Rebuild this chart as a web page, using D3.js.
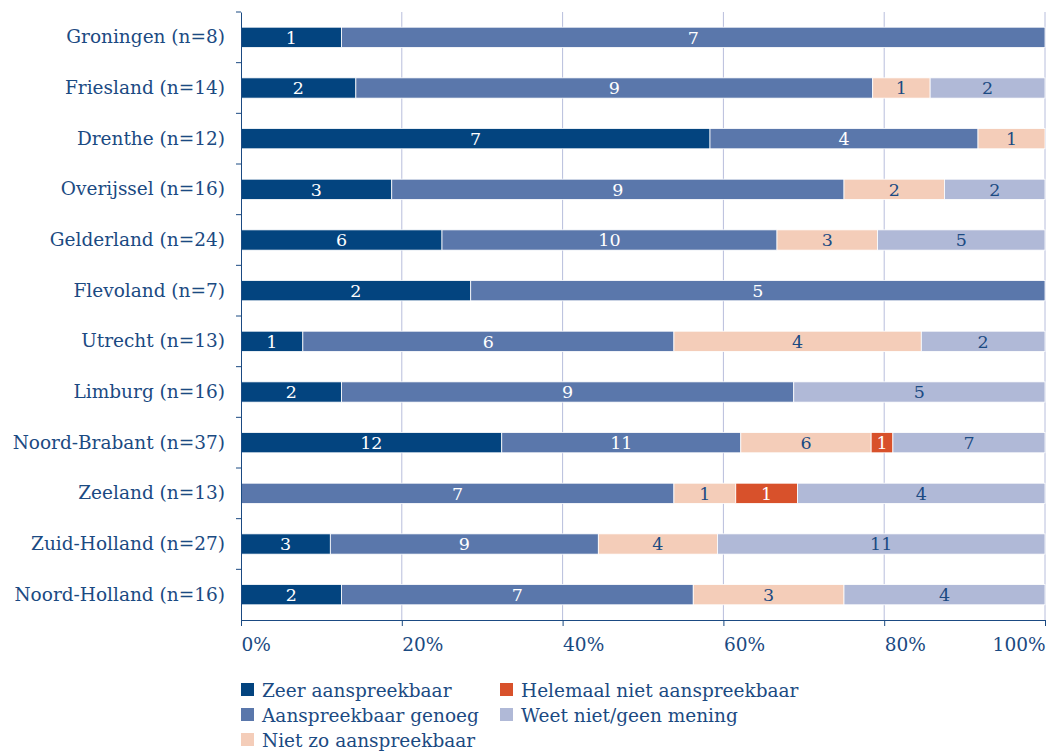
<!DOCTYPE html>
<html lang="nl">
<head>
<meta charset="UTF-8">
<title>Aanspreekbaarheid per provincie</title>
<style>
  body { margin: 0; background: #fff; }
  svg text { font-family: "DejaVu Serif", serif; fill: #1b4a82; }
</style>
</head>
<body>
<svg id="chart" width="1047" height="753"></svg>
<script src="https://d3js.org/d3.v7.min.js"></script>
<script>
var provinces = ["Groningen (n=8)", "Friesland (n=14)", "Drenthe (n=12)", "Overijssel (n=16)",
  "Gelderland (n=24)", "Flevoland (n=7)", "Utrecht (n=13)", "Limburg (n=16)",
  "Noord-Brabant (n=37)", "Zeeland (n=13)", "Zuid-Holland (n=27)", "Noord-Holland (n=16)"];

var categories = ["Zeer aanspreekbaar", "Aanspreekbaar genoeg", "Niet zo aanspreekbaar",
  "Helemaal niet aanspreekbaar", "Weet niet/geen mening"];

var zeer      = [1, 2, 7, 3, 6, 2, 1, 2, 12, 0, 3, 2];
var genoeg    = [7, 9, 4, 9, 10, 5, 6, 9, 11, 7, 9, 7];
var nietZo    = [0, 1, 1, 2, 3, 0, 4, 0, 6, 1, 4, 3];
var helemaal  = [0, 0, 0, 0, 0, 0, 0, 0, 1, 1, 0, 0];
var weetNiet  = [0, 2, 0, 2, 5, 0, 2, 5, 7, 4, 11, 4];

var xTicks = [0, 0.2, 0.4, 0.6, 0.8, 1];

var colors = ["#03447f", "#5a77ab", "#f4cdb9", "#d8512b", "#b0b9d7"];
var labelColors = ["#ffffff", "#ffffff", "#1b4a82", "#ffffff", "#1b4a82"];

var series = [zeer, genoeg, nietZo, helemaal, weetNiet];

var rows = provinces.map(function(p, i) {
  var total = d3.sum(series, function(s) { return s[i]; });
  var x0 = 0;
  var segs = series.map(function(s, k) {
    var seg = { cat: k, value: s[i], start: x0 / total, end: (x0 + s[i]) / total };
    x0 += s[i];
    return seg;
  }).filter(function(d) { return d.value > 0; });
  return { name: p, segs: segs };
});

var svg = d3.select("#chart");
var margin = { top: 12, right: 2, bottom: 133, left: 241 };
var width = 1047 - margin.left - margin.right;
var height = 753 - margin.top - margin.bottom;

var g = svg.append("g").attr("transform", "translate(" + margin.left + "," + margin.top + ")");

var x = d3.scaleLinear().domain([0, 1]).range([0, width]);
var y = d3.scaleBand().domain(provinces).range([0, height]).paddingInner(0.6).paddingOuter(0.3);

// gridlines
g.selectAll(".grid")
  .data(xTicks.slice(1))
  .enter().append("line")
  .attr("x1", function(d) { return x(d); })
  .attr("x2", function(d) { return x(d); })
  .attr("y1", 0)
  .attr("y2", height)
  .attr("stroke", "#b8bedc")
  .attr("stroke-width", 1);

var row = g.selectAll(".row")
  .data(rows)
  .enter().append("g")
  .attr("transform", function(d) { return "translate(0," + y(d.name) + ")"; });

row.selectAll("rect")
  .data(function(d) { return d.segs; })
  .enter().append("rect")
  .attr("x", function(d) { return x(d.start); })
  .attr("width", function(d) { return x(d.end) - x(d.start); })
  .attr("height", y.bandwidth())
  .attr("fill", function(d) { return colors[d.cat]; })
  .attr("stroke", "#ffffff")
  .attr("stroke-width", 0.8);

row.selectAll("text")
  .data(function(d) { return d.segs; })
  .enter().append("text")
  .attr("x", function(d) { return (x(d.start) + x(d.end)) / 2; })
  .attr("y", y.bandwidth() / 2)
  .attr("dy", "0.36em")
  .attr("text-anchor", "middle")
  .style("font-size", "17.5px")
  .style("fill", function(d) { return labelColors[d.cat]; })
  .text(function(d) { return d.value; });

// y axis
var yAxis = g.append("g").call(d3.axisLeft(y).tickSize(0).tickPadding(16));
yAxis.select(".domain").attr("stroke", "#1b4a82");
yAxis.selectAll("text").style("font-size", "18.5px").attr("fill", "#1b4a82");
// boundary ticks between categories
var step = y.step();
g.selectAll(".ytick")
  .data(d3.range(1, provinces.length))
  .enter().append("line")
  .attr("x1", -5).attr("x2", 0)
  .attr("y1", function(i) { return i * step; })
  .attr("y2", function(i) { return i * step; })
  .attr("stroke", "#1b4a82");
g.append("line").attr("x1", -5).attr("x2", 0).attr("y1", 0).attr("y2", 0).attr("stroke", "#1b4a82");

// x axis
var xAxis = g.append("g")
  .attr("transform", "translate(0," + height + ")")
  .call(d3.axisBottom(x).tickValues(xTicks).tickFormat(d3.format(".0%")).tickSize(6).tickSizeOuter(0).tickPadding(12));
xAxis.select(".domain").attr("stroke", "#1b4a82");
xAxis.selectAll("line").attr("stroke", "#1b4a82");
xAxis.selectAll("text")
  .style("font-size", "18.5px")
  .attr("fill", "#1b4a82")
  .attr("text-anchor", function(d) { return d === 1 ? "end" : "start"; });

// legend
var legendPos = [[0, 0], [0, 1], [0, 2], [1, 0], [1, 1]];
var legend = svg.append("g").attr("transform", "translate(241,683)");
var item = legend.selectAll("g")
  .data(categories)
  .enter().append("g")
  .attr("transform", function(d, i) { return "translate(" + legendPos[i][0] * 259 + "," + legendPos[i][1] * 25 + ")"; });
item.append("rect").attr("width", 13).attr("height", 13).attr("fill", function(d, i) { return colors[i]; });
item.append("text").attr("x", 21).attr("y", 7).attr("dy", "0.36em").style("font-size", "18.5px").text(function(d) { return d; });
</script>
</body>
</html>
